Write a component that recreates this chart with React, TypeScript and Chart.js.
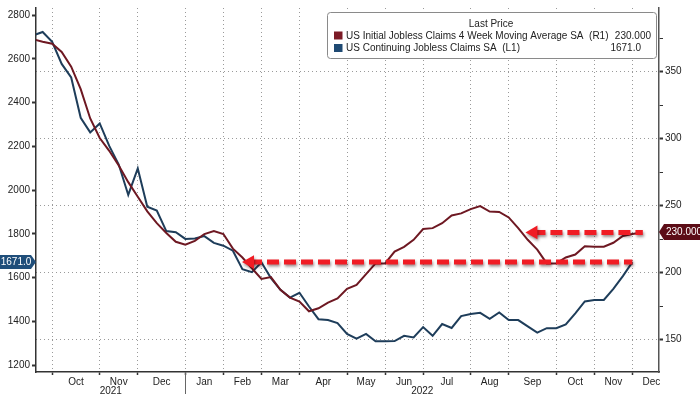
import { useEffect, useRef } from 'react';
import { Chart, registerables } from 'chart.js';

Chart.register(...registerables);

// Weekly observations (Fridays); week index 0 = 17 Sep 2021
const WEEK0 = '2021-09-17';

// US Initial Jobless Claims 4 Week Moving Average SA (R1), thousands
const INITIAL_CLAIMS_4WMA = [
  374.1, 372.3, 370.8, 364.6, 353.6, 336.9, 315.0, 300.4, 290.9, 279.9,
  267.5, 256.6, 245.7, 236.9, 229.6, 223.0, 220.8, 223.7, 228.8, 231.0,
  228.8, 217.9, 211.3, 203.3, 195.3, 196.7, 187.2, 181.4, 178.5, 171.2,
  173.4, 177.7, 180.7, 188.0, 190.9, 198.9, 206.9, 206.9, 215.7, 219.3,
  224.5, 232.5, 233.2, 236.9, 242.7, 244.2, 247.4, 249.6, 245.6, 245.3,
  241.2, 233.2, 224.5, 217.2, 206.9, 206.9, 211.3, 213.5, 219.7, 219.3,
  219.3, 222.3, 227.4, 228.8, 230.0,
];

// US Continuing Jobless Claims SA (L1), thousands
const CONTINUING_CLAIMS = [
  2707, 2723, 2678, 2577, 2515, 2331, 2264, 2305, 2202, 2117,
  1978, 2099, 1924, 1907, 1813, 1808, 1777, 1779, 1790, 1759,
  1746, 1723, 1639, 1625, 1670, 1598, 1544, 1509, 1531, 1468,
  1410, 1406, 1392, 1343, 1321, 1343, 1309, 1309, 1310, 1334,
  1327, 1374, 1334, 1388, 1370, 1424, 1434, 1439, 1412, 1441,
  1406, 1406, 1377, 1349, 1369, 1369, 1386, 1437, 1491, 1498,
  1498, 1549, 1607, 1671,
];

const SERIES_NAMES = [
  'US Initial Jobless Claims 4 Week Moving Average SA  (R1)',
  'US Continuing Jobless Claims SA  (L1)',
];
const LEGEND_TITLE = 'Last Price';

const MONTH_LABELS = ['Oct', 'Nov', 'Dec', 'Jan', 'Feb', 'Mar', 'Apr', 'May', 'Jun', 'Jul', 'Aug', 'Sep', 'Oct', 'Nov', 'Dec'];
// week index of first observation in each month (last entry = Jan 2023)
const MONTH_START_WEEKS = [2, 7, 11, 16, 20, 24, 28, 33, 37, 41, 46, 50, 55, 59, 63, 68];
const YEAR_LABELS = ['2021', '2022'];
const YEAR_START_WEEK = 16;

const LEFT_TICKS = [1200, 1400, 1600, 1800, 2000, 2200, 2400, 2600, 2800];
const RIGHT_TICKS = [150, 175, 200, 225, 250, 275, 300, 325, 350, 375];

const X_MIN = 0.3;
const X_MAX = 65.8;
const L_MIN = 1168.7;
const L_MAX = 2832.6;
const R_MIN = 125.9;
const R_MAX = 397.4;

// arrow annotations (week index span), pointing at last values
const ARROW_R1_WEEKS = [52.6, 64.1];
const ARROW_L1_WEEKS = [22.8, 63.0];

const FONT = '"Liberation Sans", Arial, sans-serif';
const TEXT = '#222222';
const AXIS = '#333333';
const GRID = '#9a9a9a';
const RED_LINE = '#6e1822';
const BLUE_LINE = '#1e3d5a';
const RED_BADGE = '#5c0d17';
const BLUE_BADGE = '#1f4e7a';
const ARROW = '#f01c24';
const CLEAR = 'rgba(0,0,0,0)';

const xTicks: number[] = [];
for (let i = 0; i < MONTH_LABELS.length; i++) {
  xTicks.push(MONTH_START_WEEKS[i]);
  const mid = (MONTH_START_WEEKS[i] + MONTH_START_WEEKS[i + 1]) / 2;
  xTicks.push(Math.min(mid, X_MAX - 0.8));
}

const shadowPlugin = {
  id: 'arrowShadow',
  beforeDatasetDraw(chart: any, args: any) {
    if (chart.data.datasets[args.index].isArrow) {
      const c = chart.ctx;
      c.save();
      c.shadowColor = 'rgba(40,0,0,0.45)';
      c.shadowBlur = 3;
      c.shadowOffsetX = 1;
      c.shadowOffsetY = 2;
    }
  },
  afterDatasetDraw(chart: any, args: any) {
    if (chart.data.datasets[args.index].isArrow) chart.ctx.restore();
  },
};

const overlayPlugin = {
  id: 'overlay',
  afterDraw(chart: any) {
    const { ctx, chartArea: a, scales } = chart;
    ctx.save();
    // year separator and labels
    const sepX = Math.round(scales.x.getPixelForValue(YEAR_START_WEEK)) + 0.5;
    ctx.strokeStyle = '#666';
    ctx.lineWidth = 1;
    ctx.beginPath();
    ctx.moveTo(sepX, a.bottom);
    ctx.lineTo(sepX, chart.height);
    ctx.stroke();
    ctx.font = `10px ${FONT}`;
    ctx.fillStyle = TEXT;
    ctx.textAlign = 'center';
    ctx.textBaseline = 'middle';
    ctx.fillText(YEAR_LABELS[0], (a.left + sepX) / 2, a.bottom + 19);
    ctx.fillText(YEAR_LABELS[1], (sepX + a.right) / 2, a.bottom + 19);

    // legend box
    ctx.beginPath();
    ctx.roundRect(327.5, 12.5, 329, 46, 3);
    ctx.fillStyle = '#ffffff';
    ctx.fill();
    ctx.strokeStyle = '#8a8a8a';
    ctx.lineWidth = 1;
    ctx.stroke();
    ctx.fillStyle = TEXT;
    ctx.textAlign = 'center';
    ctx.fillText(LEGEND_TITLE, 491, 24);
    ctx.fillStyle = '#7b1a26';
    ctx.fillRect(334, 31.5, 8.5, 8);
    ctx.fillStyle = '#1f4a73';
    ctx.fillRect(334, 44, 8.5, 8);
    ctx.fillStyle = TEXT;
    ctx.textAlign = 'left';
    ctx.fillText(SERIES_NAMES[0], 346, 36);
    ctx.fillText(SERIES_NAMES[1], 346, 48);
    const lastRed = INITIAL_CLAIMS_4WMA[INITIAL_CLAIMS_4WMA.length - 1];
    const lastBlue = CONTINUING_CLAIMS[CONTINUING_CLAIMS.length - 1];
    ctx.textAlign = 'right';
    ctx.fillText(lastRed.toFixed(3), 651, 36);
    ctx.fillText(lastBlue.toFixed(1), 641, 48);

    // axis badges
    const yb = Math.round(scales.y.getPixelForValue(lastBlue));
    ctx.fillStyle = BLUE_BADGE;
    ctx.beginPath();
    ctx.moveTo(0, yb - 7);
    ctx.lineTo(31, yb - 7);
    ctx.lineTo(36, yb);
    ctx.lineTo(31, yb + 7);
    ctx.lineTo(0, yb + 7);
    ctx.closePath();
    ctx.fill();
    ctx.fillStyle = '#ffffff';
    ctx.textAlign = 'center';
    ctx.fillText(lastBlue.toFixed(1), 16, yb + 0.5);

    const yr = Math.round(scales.y2.getPixelForValue(lastRed));
    ctx.fillStyle = RED_BADGE;
    ctx.beginPath();
    ctx.moveTo(a.right, yr);
    ctx.lineTo(a.right + 5, yr - 8);
    ctx.lineTo(700, yr - 8);
    ctx.lineTo(700, yr + 8);
    ctx.lineTo(a.right + 5, yr + 8);
    ctx.closePath();
    ctx.fill();
    ctx.fillStyle = '#ffffff';
    ctx.textAlign = 'left';
    ctx.fillText(lastRed.toFixed(3), a.right + 7, yr + 0.5);
    ctx.restore();
  },
};

function arrowDataset(span: number[], y: number, axis: string) {
  return {
    label: '',
    isArrow: true,
    data: [{ x: span[0], y }, { x: span[1], y }],
    yAxisID: axis,
    borderColor: ARROW,
    backgroundColor: ARROW,
    borderWidth: 5,
    borderDash: [12, 5],
    borderCapStyle: 'butt',
    pointRadius: [8, 0],
    pointStyle: 'triangle',
    pointRotation: -90,
    pointBackgroundColor: ARROW,
    pointBorderColor: ARROW,
    pointBorderWidth: 0,
    tension: 0,
    order: 0,
  };
}

export default function App() {
  const ref = useRef<HTMLCanvasElement>(null);
  useEffect(() => {
    const canvas = ref.current;
    if (!canvas) return;
    const lastRed = INITIAL_CLAIMS_4WMA[INITIAL_CLAIMS_4WMA.length - 1];
    const lastBlue = CONTINUING_CLAIMS[CONTINUING_CLAIMS.length - 1];
    const font = { family: FONT, size: 10 };
    const chart = new Chart(canvas, {
      type: 'line',
      data: {
        datasets: [
          arrowDataset(ARROW_R1_WEEKS, lastRed, 'y2'),
          arrowDataset(ARROW_L1_WEEKS, lastBlue, 'y'),
          {
            label: SERIES_NAMES[0],
            data: INITIAL_CLAIMS_4WMA.map((v, i) => ({ x: i, y: v })),
            yAxisID: 'y2',
            borderColor: RED_LINE,
            borderWidth: 2,
            pointRadius: 0,
            tension: 0,
            order: 1,
          },
          {
            label: SERIES_NAMES[1],
            data: CONTINUING_CLAIMS.map((v, i) => ({ x: i, y: v })),
            yAxisID: 'y',
            borderColor: BLUE_LINE,
            borderWidth: 2,
            pointRadius: 0,
            tension: 0,
            order: 2,
          },
        ] as any,
      },
      options: {
        animation: false,
        responsive: false,
        devicePixelRatio: 1,
        events: [],
        layout: { padding: 0 },
        plugins: { legend: { display: false }, tooltip: { enabled: false } },
        scales: {
          x: {
            type: 'linear',
            position: 'bottom',
            min: X_MIN,
            max: X_MAX,
            afterBuildTicks: (s: any) => {
              s.ticks = xTicks.map((v) => ({ value: v }));
            },
            afterFit: (s: any) => {
              s.height = 22;
              s.paddingLeft = 0;
              s.paddingRight = 0;
            },
            ticks: {
              autoSkip: false,
              maxRotation: 0,
              minRotation: 0,
              padding: 1,
              color: TEXT,
              font,
              callback: (_v: any, i: number) => (i % 2 ? MONTH_LABELS[(i - 1) / 2] : ''),
            },
            grid: {
              drawOnChartArea: true,
              color: (c: any) => (c.index % 2 === 0 ? GRID : CLEAR),
              lineWidth: 1,
              tickLength: 3,
              tickWidth: 1.5,
              tickColor: (c: any) => (c.index % 2 === 0 ? AXIS : CLEAR),
            },
            border: { display: true, color: AXIS, width: 1.5, dash: [1, 3] },
          },
          y: {
            type: 'linear',
            position: 'left',
            min: L_MIN,
            max: L_MAX,
            afterBuildTicks: (s: any) => {
              s.ticks = LEFT_TICKS.map((v) => ({ value: v }));
            },
            afterFit: (s: any) => {
              s.width = 36;
              s.paddingTop = 0;
              s.paddingBottom = 0;
            },
            ticks: { padding: 2, color: TEXT, font, callback: (v: any) => String(v) },
            grid: { drawOnChartArea: false, tickLength: 4, tickWidth: 2, tickColor: AXIS },
            border: { display: true, color: AXIS, width: 1.5 },
          },
          y2: {
            type: 'linear',
            position: 'right',
            min: R_MIN,
            max: R_MAX,
            afterBuildTicks: (s: any) => {
              s.ticks = RIGHT_TICKS.map((v) => ({ value: v }));
            },
            afterFit: (s: any) => {
              s.width = 41;
              s.paddingTop = 0;
              s.paddingBottom = 0;
            },
            ticks: {
              padding: 2,
              color: TEXT,
              font,
              callback: (v: any) => (Number(v) % 50 === 0 ? String(v) : ''),
            },
            grid: {
              drawOnChartArea: true,
              color: (c: any) => (c.tick && c.tick.value % 50 === 0 ? GRID : CLEAR),
              lineWidth: 1,
              tickLength: 4,
              tickWidth: (c: any) => (c.tick && c.tick.value % 50 === 0 ? 2 : 1),
              tickColor: AXIS,
            },
            border: { display: true, color: '#555555', width: 1.5, dash: [1, 3] },
          },
        },
      } as any,
      plugins: [shadowPlugin, overlayPlugin],
    });
    return () => chart.destroy();
  }, []);

  return (
    <div style={{ position: 'fixed', left: 0, top: 0, width: 700, height: 394, background: '#ffffff' }}>
      <canvas ref={ref} width={700} height={394} style={{ display: 'block', width: 700, height: 394 }} data-week0={WEEK0} />
    </div>
  );
}
